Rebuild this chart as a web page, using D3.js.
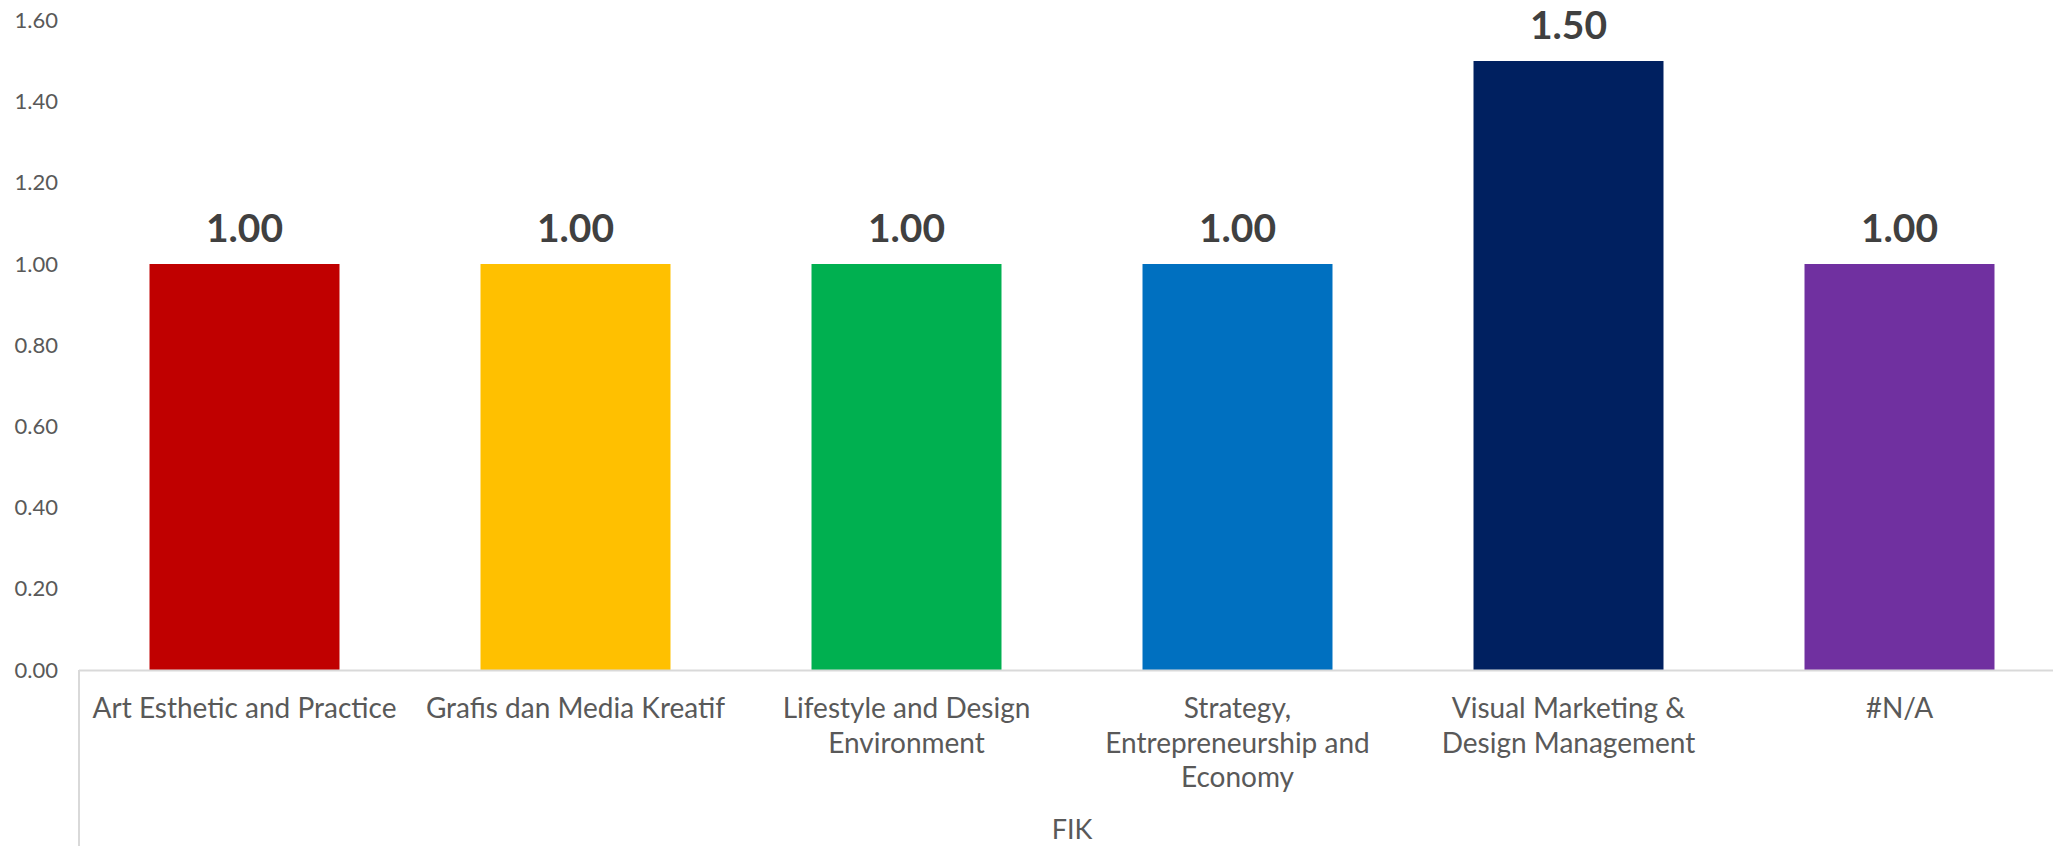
<!DOCTYPE html>
<html>
<head>
<meta charset="utf-8">
<script src="https://cdn.jsdelivr.net/npm/d3@7"></script>
<style>
  html, body { margin: 0; padding: 0; background: #ffffff; overflow: hidden; }
  svg { display: block; }
</style>
</head>
<body>
<svg id="chart" width="2053" height="846"></svg>
<script>
// ---- data ----
const categories = [
  "Art Esthetic and Practice",
  "Grafis dan Media Kreatif",
  "Lifestyle and Design Environment",
  "Strategy, Entrepreneurship and Economy",
  "Visual Marketing & Design Management",
  "#N/A"
];
const categoryLines = [
  ["Art Esthetic and Practice"],
  ["Grafis dan Media Kreatif"],
  ["Lifestyle and Design", "Environment"],
  ["Strategy,", "Entrepreneurship and", "Economy"],
  ["Visual Marketing &", "Design Management"],
  ["#N/A"]
];
const values = [1.00, 1.00, 1.00, 1.00, 1.50, 1.00];
const barColors = ["#C00000", "#FFC000", "#00B050", "#0070C0", "#002060", "#7030A0"];
const groupLabel = "FIK";
const yTicks = [0, 0.2, 0.4, 0.6, 0.8, 1.0, 1.2, 1.4, 1.6];

// ---- layout ----
const W = 2053, H = 846;
const plotLeft = 79, step = 331;
const plotRight = plotLeft + step * categories.length;
const yBottom = 670, yTop = 20.4;
const font = "Lato, 'Open Sans', sans-serif";

const svg = d3.select("#chart");

const x = d3.scaleBand()
  .domain(categories)
  .range([plotLeft, plotRight])
  .paddingInner(0.426)
  .paddingOuter(0.213);

const y = d3.scaleLinear().domain([0, 1.6]).range([yBottom, yTop]);

// y axis (labels only)
const yAxis = d3.axisLeft(y).tickValues(yTicks).tickFormat(d3.format(".2f")).tickSize(0).tickPadding(0);
const yg = svg.append("g").attr("transform", "translate(58,0)").call(yAxis);
yg.select(".domain").remove();
yg.selectAll("text")
  .attr("fill", "#595959")
  .style("font-family", font)
  .style("font-size", "22px");

// bars
svg.append("g").selectAll("rect")
  .data(values)
  .join("rect")
  .attr("x", (d, i) => x(categories[i]))
  .attr("width", x.bandwidth())
  .attr("y", d => y(d))
  .attr("height", d => y(0) - y(d))
  .attr("fill", (d, i) => barColors[i]);

// data labels
svg.append("g").selectAll("text")
  .data(values)
  .join("text")
  .attr("x", (d, i) => x(categories[i]) + x.bandwidth() / 2)
  .attr("y", d => y(d) - 22)
  .attr("text-anchor", "middle")
  .attr("fill", "#404040")
  .style("font-family", font)
  .style("font-weight", "bold")
  .style("font-size", "39px")
  .text(d => d3.format(".2f")(d));

// category axis line
svg.append("line")
  .attr("x1", plotLeft).attr("x2", plotRight)
  .attr("y1", y(0) + 0.5).attr("y2", y(0) + 0.5)
  .attr("stroke", "#d9d9d9").attr("stroke-width", 2);
// group separators (multi-level axis)
[plotLeft, plotRight].forEach(px => {
  svg.append("line")
    .attr("x1", px).attr("x2", px)
    .attr("y1", y(0)).attr("y2", H)
    .attr("stroke", "#d9d9d9").attr("stroke-width", 2);
});

// category labels
const catG = svg.append("g");
categories.forEach((c, i) => {
  const t = catG.append("text")
    .attr("x", x(c) + x.bandwidth() / 2)
    .attr("y", 718)
    .attr("text-anchor", "middle")
    .attr("fill", "#595959")
    .style("font-family", font)
    .style("font-size", "28px");
  categoryLines[i].forEach((line, j) => {
    t.append("tspan")
      .attr("x", x(c) + x.bandwidth() / 2)
      .attr("dy", j === 0 ? 0 : 34.5)
      .text(line);
  });
});

// group label
svg.append("text")
  .attr("x", (plotLeft + plotRight) / 2)
  .attr("y", 839)
  .attr("text-anchor", "middle")
  .attr("fill", "#595959")
  .style("font-family", font)
  .style("font-size", "27px")
  .text(groupLabel);
</script>
</body>
</html>
